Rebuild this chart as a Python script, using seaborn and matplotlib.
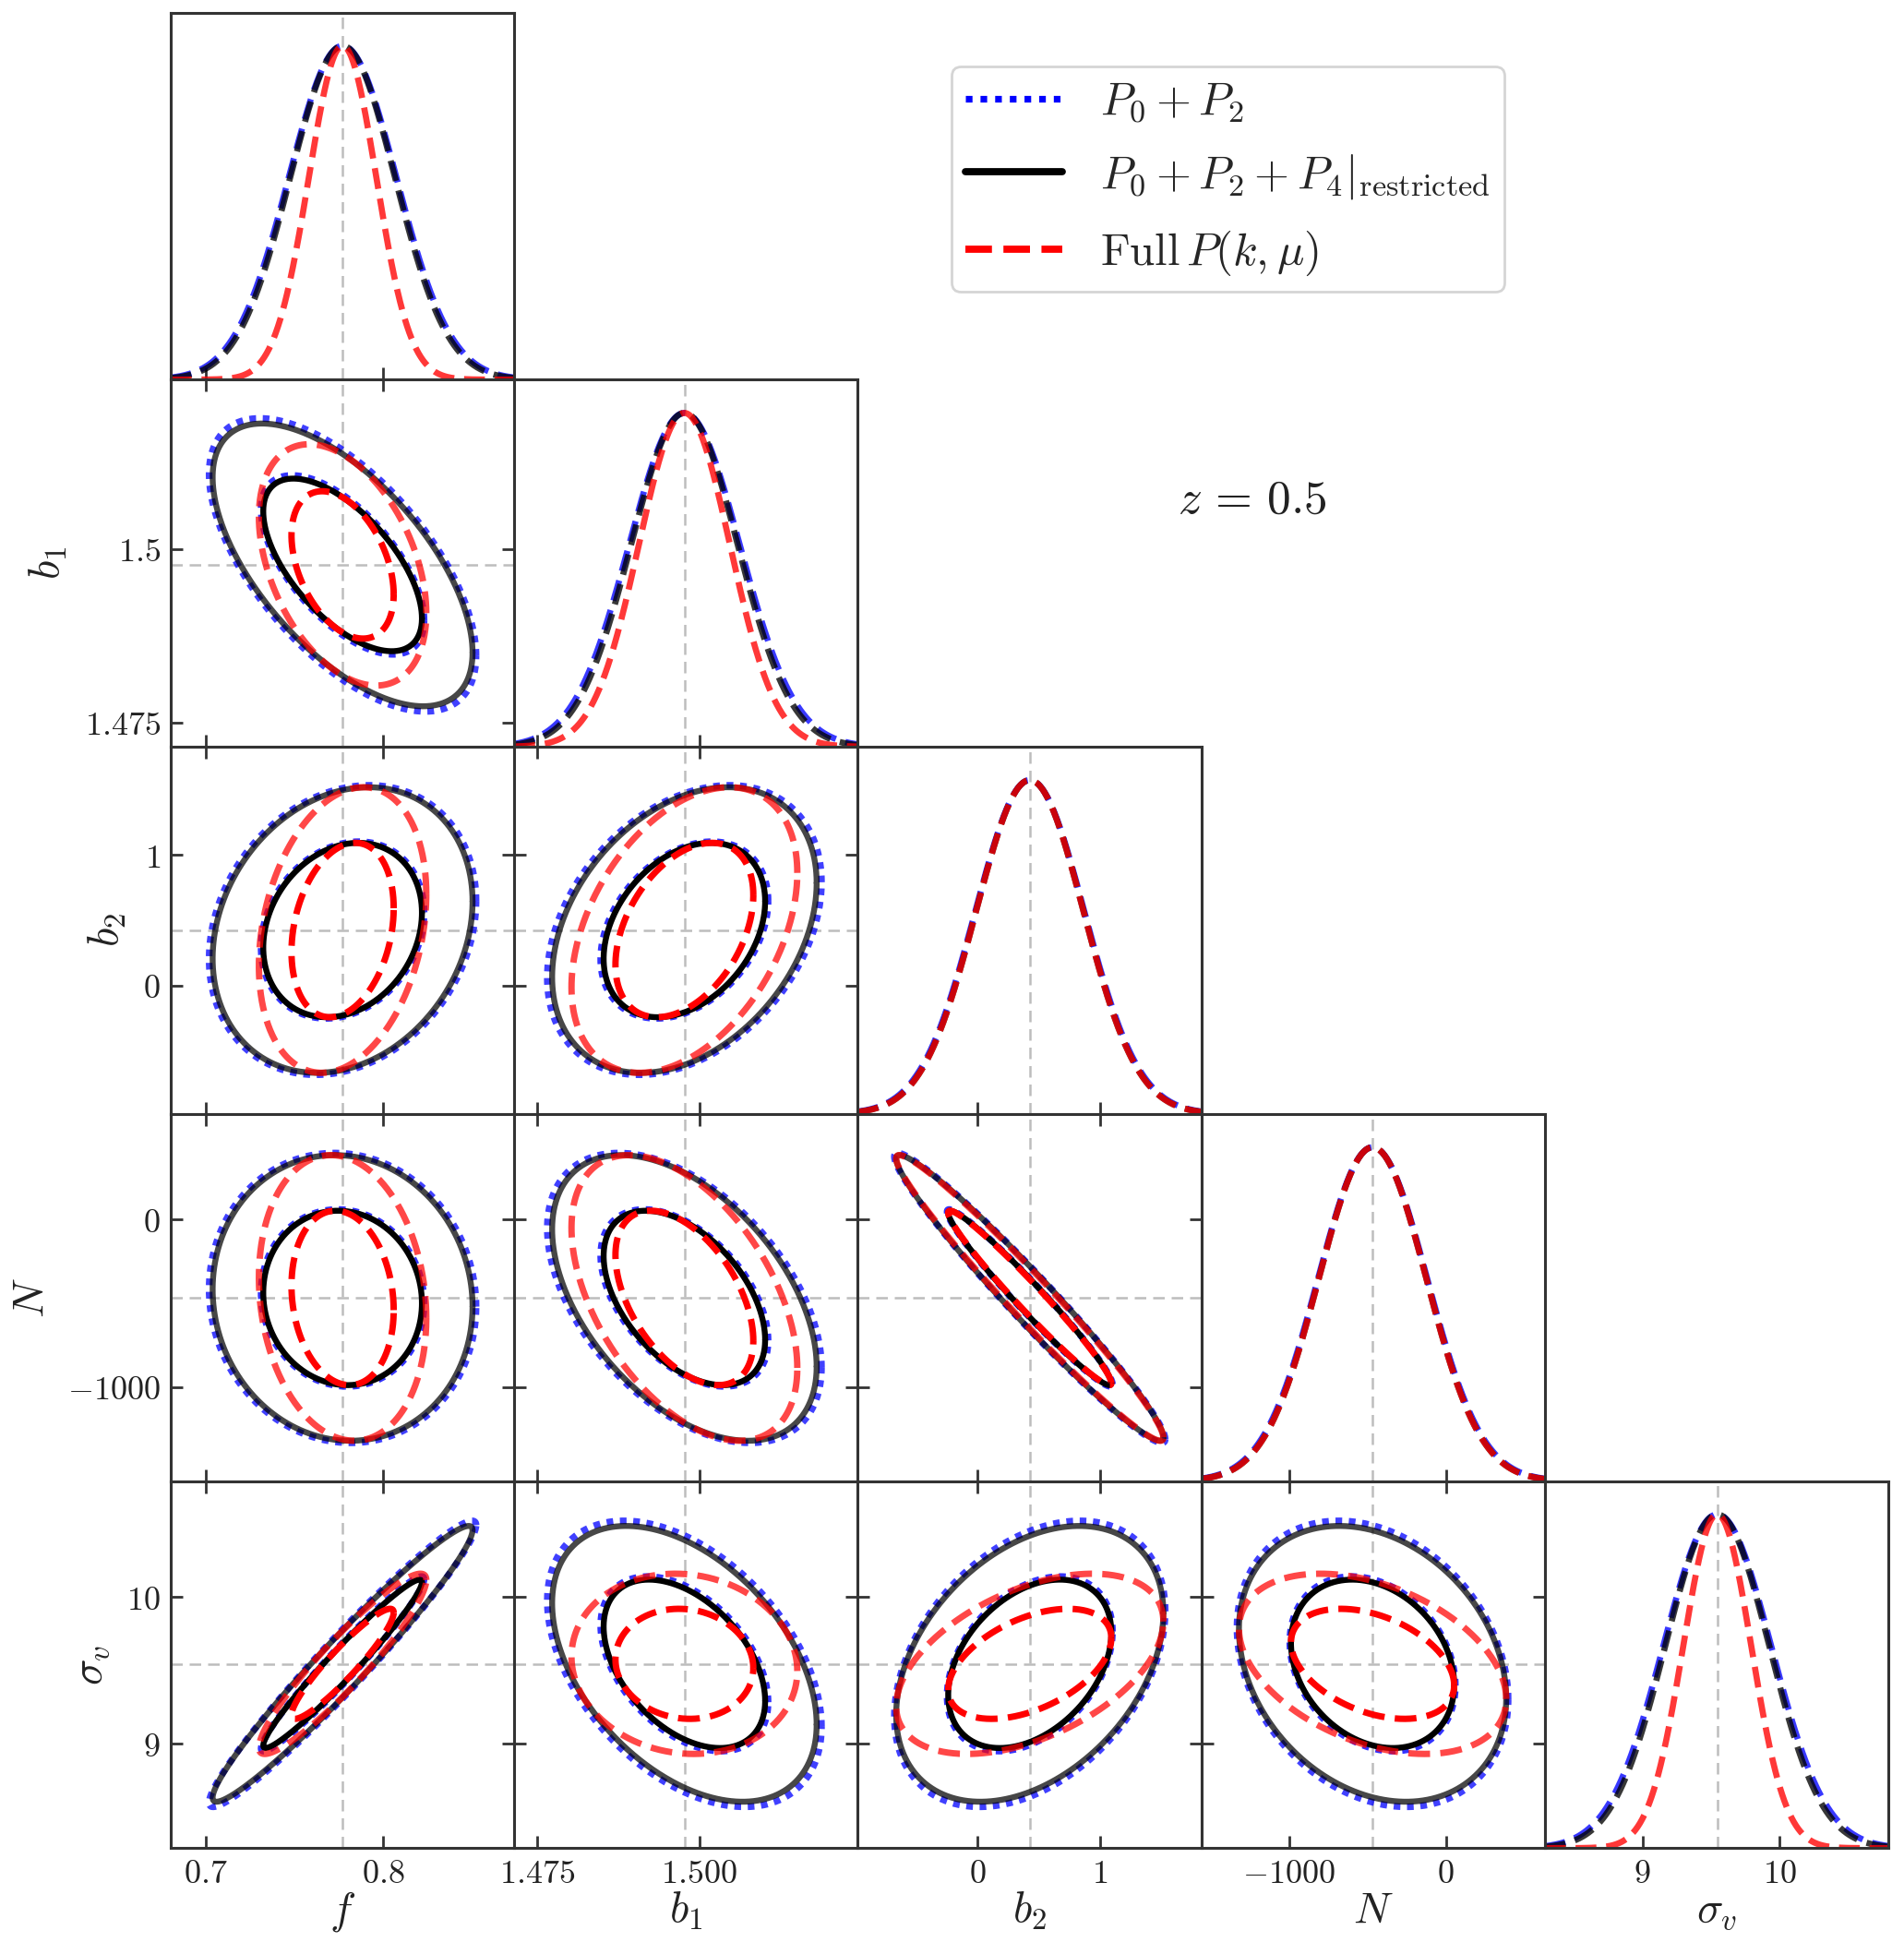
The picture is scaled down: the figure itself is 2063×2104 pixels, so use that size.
import numpy as np
import pandas as pd
import matplotlib
matplotlib.use("Agg")
import matplotlib.pyplot as plt
import seaborn as sns
from matplotlib.lines import Line2D

# ---------------- data ----------------
param_labels = [r"$f$", r"$b_1$", r"$b_2$", r"$N$", r"$\sigma_v$"]
fiducial = [0.777, 1.4977, 0.425, -468.0, 9.545]

# 1-sigma marginal errors
sigma_p02 = [0.0303, 0.0085, 0.446, 348.0, 0.392]     # P0 + P2
sigma_p024 = [0.0295, 0.0082, 0.440, 343.0, 0.378]    # P0 + P2 + P4 restricted
sigma_full = [0.0190, 0.0070, 0.440, 343.0, 0.247]    # Full P(k, mu)

# correlation coefficients, pairs (f,b1),(f,b2),(f,N),(f,sv),(b1,b2),(b1,N),(b1,sv),(b2,N),(b2,sv),(N,sv)
pairs = [(0, 1), (0, 2), (0, 3), (0, 4), (1, 2), (1, 3), (1, 4), (2, 3), (2, 4), (3, 4)]
corr_p02 = [-0.62, 0.20, -0.06, 0.97, 0.33, -0.48, -0.44, -0.975, 0.37, -0.25]
corr_p024 = [-0.62, 0.20, -0.06, 0.97, 0.33, -0.48, -0.44, -0.975, 0.37, -0.25]
corr_full = [-0.40, 0.25, -0.14, 0.93, 0.40, -0.49, -0.08, -0.977, 0.47, -0.39]

axis_lims = [(0.6801, 0.8738), (1.4715, 1.5244), (-0.982, 1.828), (-1560.0, 630.0), (8.29, 10.79)]
tick_values = [[0.7, 0.8], [1.475, 1.5], [0, 1], [-1000, 0], [9, 10]]
xtick_labels = [["0.7", "0.8"], ["1.475", "1.500"], ["0", "1"], ["-1000", "0"], ["9", "10"]]
ytick_labels = [["0.7", "0.8"], ["1.475", "1.5"], ["0", "1"], ["-1000", "0"], ["9", "10"]]

dchi2_levels = [2.30, 6.17]   # 68% and 95% two-parameter contours

legend_labels = [r"$P_0 + P_2$",
                 r"$P_0 + P_2 + P_4|_{\mathrm{restricted}}$",
                 r"$\mathrm{Full}\,P(k,\mu)$"]

# ---------------- style ----------------
sns.set_theme(style="ticks")
plt.rcParams["mathtext.fontset"] = "cm"
plt.rcParams["font.family"] = ["DejaVu Serif"]
plt.rcParams["axes.unicode_minus"] = True

datasets = [
    dict(sig=sigma_p02, corr=corr_p02, color="blue", ls=(0, (1, 1)), alphas=(0.8, 0.75), lw=2.6),
    dict(sig=sigma_p024, corr=corr_p024, color="black", ls="-", alphas=(1.0, 0.72), lw=2.3),
    dict(sig=sigma_full, corr=corr_full, color="red", ls=(0, (3.4, 1.6)), alphas=(1.0, 0.72), lw=2.5),
]

W, H, DPI = 2063, 2104, 200
fig, axes = plt.subplots(5, 5, figsize=(W / DPI, H / DPI), dpi=DPI)
fig.subplots_adjust(left=185 / W, right=2046 / W, top=1 - 13.5 / H, bottom=1 - 2002.3 / H,
                    wspace=0, hspace=0)

spine_col = "#333333"
fid_kw = dict(color="#bdbdbd", lw=0.9, ls=(0, (5, 3)), zorder=0)


def ellipse_df(mx, my, sx, sy, rho, dchi2, n=500):
    cov = np.array([[sx ** 2, rho * sx * sy], [rho * sx * sy, sy ** 2]])
    L = np.linalg.cholesky(cov)
    t = np.linspace(0, 2 * np.pi, n)
    pts = L @ (np.vstack([np.cos(t), np.sin(t)]) * np.sqrt(dchi2))
    return pd.DataFrame({"x": mx + pts[0], "y": my + pts[1]})


def style_axis(ax, diag):
    for s in ax.spines.values():
        s.set_color(spine_col)
        s.set_linewidth(1.1)
    ax.tick_params(direction="in", length=4.6, width=1.0, color=spine_col,
                   labelsize=13, labelcolor="#222222", pad=4,
                   top=not diag, right=not diag, bottom=True, left=not diag)


for i in range(5):
    for j in range(5):
        ax = axes[i, j]
        if j > i:
            ax.axis("off")
            continue
        xl = axis_lims[j]
        if i == j:
            xs = np.linspace(xl[0], xl[1], 600)
            ax.axvline(fiducial[j], **fid_kw)
            for d in datasets:
                g = np.exp(-0.5 * ((xs - fiducial[j]) / d["sig"][j]) ** 2)
                sns.lineplot(data=pd.DataFrame({"x": xs, "y": g}), x="x", y="y", ax=ax,
                             color=d["color"], lw=2.4, alpha=0.78, linestyle=(0, (3.4, 1.6)),
                             sort=False, estimator=None, legend=False)
            ax.set_ylim(0, 1.1)
            ax.set_yticks([])
            ax.set_ylabel("")
        else:
            k = pairs.index((j, i))
            ax.axvline(fiducial[j], **fid_kw)
            ax.axhline(fiducial[i], **fid_kw)
            for d in datasets:
                for lev, alpha in zip(dchi2_levels, d["alphas"]):
                    df = ellipse_df(fiducial[j], fiducial[i], d["sig"][j], d["sig"][i],
                                    d["corr"][k], lev)
                    sns.lineplot(data=df, x="x", y="y", ax=ax, color=d["color"], lw=d["lw"],
                                 alpha=alpha, linestyle=d["ls"], sort=False,
                                 estimator=None, legend=False)
            ax.set_ylim(*axis_lims[i])
            ax.set_yticks(tick_values[i])
            if j == 0:
                ax.set_yticklabels(["$" + s + "$" for s in ytick_labels[i]])
                ax.set_ylabel(param_labels[i], fontsize=17, labelpad=6, color="#222222")
            else:
                ax.set_yticklabels([])
                ax.set_ylabel("")
        ax.set_xlim(*xl)
        ax.set_xticks(tick_values[j])
        if i == 4:
            ax.set_xticklabels(["$" + s + "$" for s in xtick_labels[j]])
            ax.set_xlabel(param_labels[j], fontsize=17, labelpad=0, color="#222222")
        else:
            ax.set_xticklabels([])
            ax.set_xlabel("")
        style_axis(ax, i == j)

# legend
handles = [Line2D([], [], color="blue", lw=2.6, ls=(0, (1, 1.2))),
           Line2D([], [], color="black", lw=2.8, ls="-", solid_capstyle="round"),
           Line2D([], [], color="red", lw=2.8, ls=(0, (3.7, 1.6)))]
leg = fig.legend(handles, legend_labels, loc="upper left",
                 bbox_to_anchor=(1031 / W, 1 - 72 / H), borderaxespad=0,
                 fontsize=17.6, handlelength=2.15, handletextpad=0.85, labelspacing=0.62,
                 borderpad=0.3, frameon=True, fancybox=True, framealpha=1.0)
leg.get_frame().set_edgecolor("#d5d5d5")
leg.get_frame().set_linewidth(1.0)

fig.text(1357 / W, 1 - 541.7 / H, r"$z\,=\,0.5$", fontsize=18.5, ha="center", va="center",
         color="#222222")

fig.savefig("out.png", dpi=DPI)
